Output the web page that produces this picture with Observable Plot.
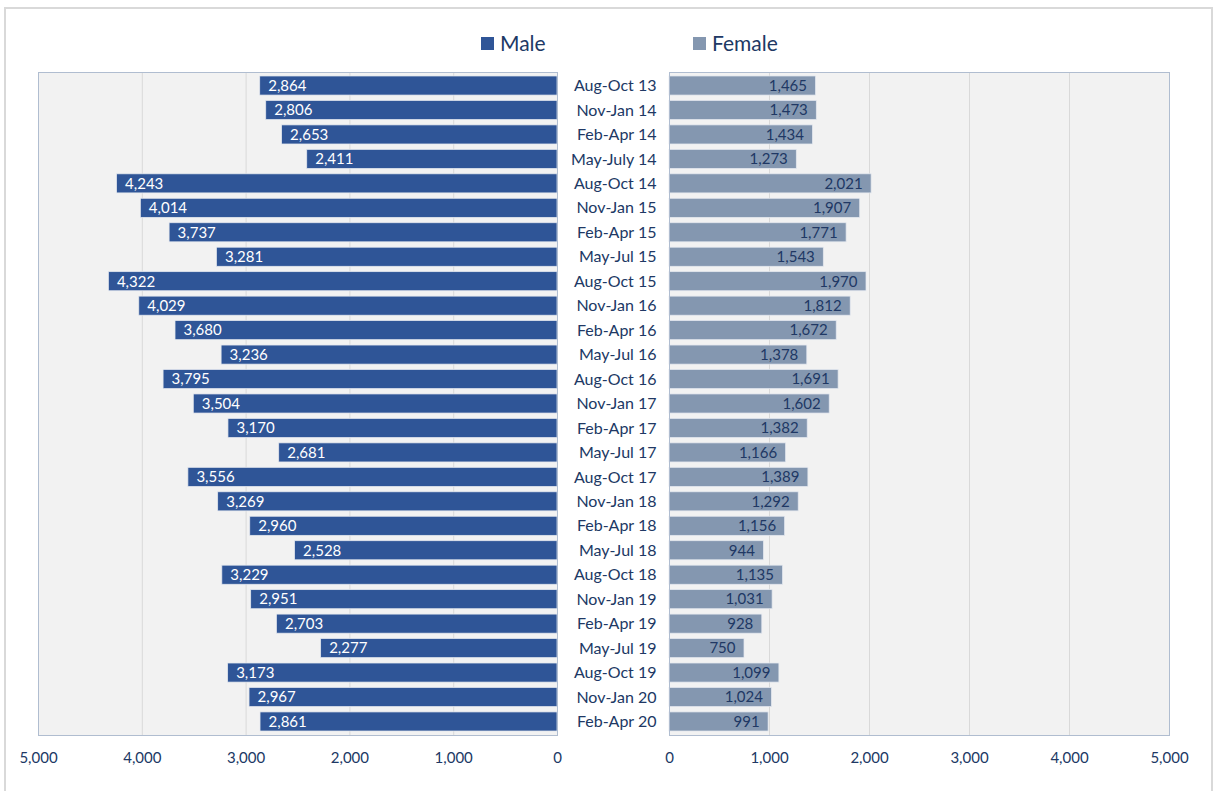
<!DOCTYPE html>
<html>
<head>
<meta charset="utf-8">
<script src="https://cdn.jsdelivr.net/npm/d3@7"></script>
<script src="https://cdn.jsdelivr.net/npm/@observablehq/plot@0.6"></script>
<style>
  body { margin: 0; background: #ffffff; font-family: Lato, sans-serif; }
  #chart { position: relative; width: 1214px; height: 791px; overflow: hidden; background: #ffffff; }
  #outer { position: absolute; left: 4px; top: 7px; width: 1205px; height: 810px; border: 2px solid #d9d9d9; }
  .plot { position: absolute; top: 0; }
  .legend-item { position: absolute; top: 28px; font-size: 21px; color: #203864; line-height: 30px; white-space: nowrap; }
  .swatch { display: inline-block; width: 13px; height: 13px; margin-right: 6px; vertical-align: 1px; }
</style>
</head>
<body>
<div id="chart">
  <div id="outer"></div>
</div>
<script>
// Three-month periods, top to bottom
const periods = [
  "Aug-Oct 13", "Nov-Jan 14", "Feb-Apr 14", "May-July 14", "Aug-Oct 14", "Nov-Jan 15",
  "Feb-Apr 15", "May-Jul 15", "Aug-Oct 15", "Nov-Jan 16", "Feb-Apr 16", "May-Jul 16",
  "Aug-Oct 16", "Nov-Jan 17", "Feb-Apr 17", "May-Jul 17", "Aug-Oct 17", "Nov-Jan 18",
  "Feb-Apr 18", "May-Jul 18", "Aug-Oct 18", "Nov-Jan 19", "Feb-Apr 19", "May-Jul 19",
  "Aug-Oct 19", "Nov-Jan 20", "Feb-Apr 20"
];
const male = [
  2864, 2806, 2653, 2411, 4243, 4014, 3737, 3281, 4322, 4029, 3680, 3236, 3795, 3504,
  3170, 2681, 3556, 3269, 2960, 2528, 3229, 2951, 2703, 2277, 3173, 2967, 2861
];
const female = [
  1465, 1473, 1434, 1273, 2021, 1907, 1771, 1543, 1970, 1812, 1672, 1378, 1691, 1602,
  1382, 1166, 1389, 1292, 1156, 944, 1135, 1031, 928, 750, 1099, 1024, 991
];
const axisTicks = [0, 1000, 2000, 3000, 4000, 5000];
const seriesNames = ["Male", "Female"];

const maleColor = "#2f5597";
const femaleColor = "#8497b0";
const navy = "#203864";
const panelFill = "#f2f2f2";
const gridColor = "#d9d9d9";
const edgeColor = "#b0bdd0";

const rows = periods.map((period, i) => ({period, male: male[i], female: female[i]}));
const fmt = d3.format(",");
const chart = document.getElementById("chart");

// Shared band layout for the period rows (unrounded so rows fill the panel)
const yBand = {domain: periods, paddingInner: 0.22, paddingOuter: 0.163, round: false, label: null};

// Left panel: male counts, axis running right to left
const left = Plot.plot({
  width: 580, height: 780,
  marginLeft: 38, marginRight: 23, marginTop: 72, marginBottom: 45,
  style: {fontFamily: "Lato, sans-serif", color: navy, background: "transparent"},
  x: {domain: [5000, 0], label: null},
  y: {...yBand, axis: null},
  marks: [
    Plot.frame({fill: panelFill, stroke: null}),
    Plot.gridX(axisTicks, {stroke: gridColor, strokeOpacity: 1}),
    Plot.barX(rows, {x: "male", y: "period", fill: maleColor, stroke: "#e4e8ef", strokeWidth: 0.75}),
    Plot.text(rows, {x: "male", y: "period", text: d => fmt(d.male), textAnchor: "start", dx: 8, fill: "#ffffff", fontSize: 15}),
    Plot.frame({stroke: edgeColor, strokeWidth: 1}),
    Plot.axisX(axisTicks, {tickSize: 0, tickPadding: 17, fontSize: 15, tickFormat: fmt, fill: navy, label: null})
  ]
});
left.classList.add("plot");
left.style.left = "0px";
chart.appendChild(left);

// Right panel: female counts, with period labels in the centre gutter
const right = Plot.plot({
  width: 657, height: 780,
  marginLeft: 112, marginRight: 45, marginTop: 72, marginBottom: 45,
  style: {fontFamily: "Lato, sans-serif", color: navy, background: "transparent"},
  x: {domain: [0, 5000], label: null},
  y: yBand,
  marks: [
    Plot.frame({fill: panelFill, stroke: null}),
    Plot.gridX(axisTicks, {stroke: gridColor, strokeOpacity: 1}),
    Plot.barX(rows, {x: "female", y: "period", fill: femaleColor, stroke: "#e4e8ef", strokeWidth: 0.75}),
    Plot.text(rows, {x: "female", y: "period", text: d => fmt(d.female), textAnchor: "end", dx: -9, fill: navy, fontSize: 15}),
    Plot.frame({stroke: edgeColor, strokeWidth: 1}),
    Plot.axisY({tickSize: 0, tickPadding: 13, fontSize: 16, fill: navy, label: null}),
    Plot.axisX(axisTicks, {tickSize: 0, tickPadding: 17, fontSize: 15, tickFormat: fmt, fill: navy, label: null})
  ]
});
right.classList.add("plot");
right.style.left = "557px";
chart.appendChild(right);

// Legend above the panels
const legendX = [481, 693];
const legendColors = [maleColor, femaleColor];
seriesNames.forEach((name, i) => {
  const item = document.createElement("div");
  item.className = "legend-item";
  item.style.left = legendX[i] + "px";
  const sw = document.createElement("span");
  sw.className = "swatch";
  sw.style.background = legendColors[i];
  item.appendChild(sw);
  item.appendChild(document.createTextNode(name));
  chart.appendChild(item);
});
</script>
</body>
</html>
